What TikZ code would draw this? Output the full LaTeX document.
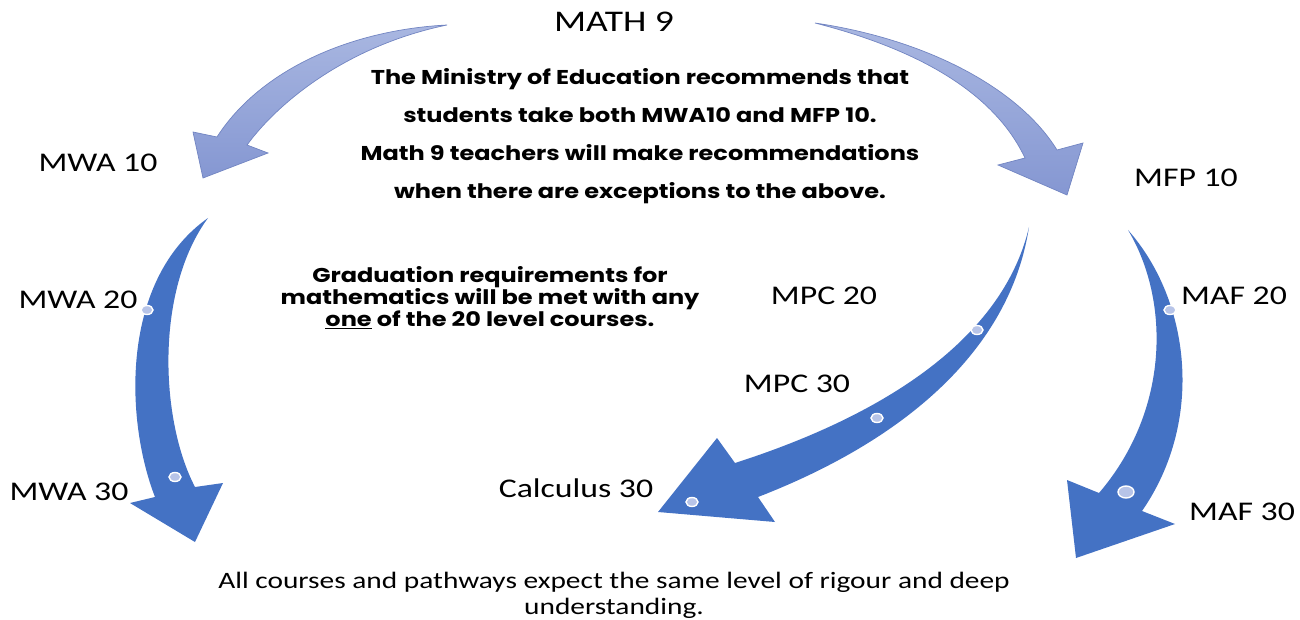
\documentclass[tikz,border=0pt]{standalone}
\usepackage{fontspec}
\setmainfont{Carlito}[FakeStretch=1.25]
\newfontfamily\notefont{Poppins}[FakeStretch=1.2]
\usepackage{xcolor}
\usepackage{tikz}
\definecolor{pathblue}{HTML}{4472C4}
\definecolor{softtop}{HTML}{A9B7E1}
\definecolor{softbottom}{HTML}{8597D2}
\definecolor{softedge}{HTML}{7285C2}
\definecolor{dotfill}{HTML}{B7C4E8}

\begin{document}
\begin{tikzpicture}[x=1pt, y=-1pt,
    course/.style={font=\fontsize{27}{30}\selectfont, inner sep=0pt},
    note/.style={font=\notefont\bfseries\fontsize{20}{38}\selectfont, align=center, inner sep=0pt},
    softarrow/.style={top color=softtop, bottom color=softbottom, draw=softedge, line width=0.7pt},
    hardarrow/.style={fill=pathblue},
    waypoint/.style={fill=dotfill, draw=white, line width=1.4pt}]
    \useasboundingbox (0,0) rectangle (1300,620);

    % Math 9 splits into the two grade 10 courses
    \path[softarrow] (447,25) .. controls (350,30) and (260,70) .. (217,137)
        -- (193,132) -- (203,178) -- (268,153) -- (247,145)
        .. controls (280,100) and (350,45) .. (447,25) -- cycle;
    \path[softarrow] (815,23) .. controls (930,40) and (1020,90) .. (1057,150)
        -- (1083,143) -- (1067,195) -- (998,165) -- (1025,158)
        .. controls (1000,105) and (940,55) .. (815,23) -- cycle;

    % workplace pathway
    \fill[hardarrow] (208,218) .. controls (120,280) and (125,420) .. (155,497)
        -- (130,503) -- (195,542) -- (223,483) -- (195,487)
        .. controls (160,420) and (155,290) .. (208,218) -- cycle;
    % pre-calculus pathway
    \fill[hardarrow] (1029,227) .. controls (1005,330) and (900,410) .. (735,463)
        -- (717,438) -- (658,512) -- (775,522) -- (758,497)
        .. controls (905,440) and (1010,350) .. (1029,227) -- cycle;
    % foundations pathway
    \fill[hardarrow] (1128,230) .. controls (1190,300) and (1205,420) .. (1142,511)
        -- (1175,524) -- (1076,558) -- (1067,480) -- (1099,493)
        .. controls (1170,410) and (1170,300) .. (1128,230) -- cycle;

    \draw[waypoint] (147,310) ellipse [x radius=6pt, y radius=4.5pt];
    \draw[waypoint] (175,477) ellipse [x radius=6pt, y radius=4.5pt];
    \draw[waypoint] (977,330) ellipse [x radius=6pt, y radius=4.5pt];
    \draw[waypoint] (877,418) ellipse [x radius=6pt, y radius=4.5pt];
    \draw[waypoint] (692,502) ellipse [x radius=6pt, y radius=4.5pt];
    \draw[waypoint] (1170,310) ellipse [x radius=6pt, y radius=4.5pt];
    \draw[waypoint] (1126,492) ellipse [x radius=8pt, y radius=6pt];

    \node[course, font=\fontsize{30}{32}\selectfont] (math9) at (614,22) {MATH 9};
    \node[course] (mwa10) at (98,163) {MWA 10};
    \node[course] (mfp10) at (1186,178) {MFP 10};
    \node[course] (mwa20) at (78,300) {MWA 20};
    \node[course] (mwa30) at (69,492) {MWA 30};
    \node[course] (mpc20) at (824,296) {MPC 20};
    \node[course] (mpc30) at (797,384) {MPC 30};
    \node[course] (calc30) at (576,488) {Calculus 30};
    \node[course] (maf20) at (1234,296) {MAF 20};
    \node[course] (maf30) at (1242,512) {MAF 30};

    \node[note] (ministry) at (640,136)
        {The Ministry of Education recommends that\\
         students take both MWA10 and MFP 10.\\
         Math 9 teachers will make recommendations\\
         when there are exceptions to the above.};
    \node[note, font=\notefont\bfseries\fontsize{20}{22}\selectfont] (grad) at (490,298)
        {Graduation requirements for\\
         mathematics will be met with any\\
         \underline{one} of the 20 level courses.};
    \node[course, font=\fontsize{23.5}{26}\selectfont, align=center] (rigour) at (614,595)
        {All courses and pathways expect the same level of rigour and deep\\
         understanding.};
\end{tikzpicture}
\end{document}
